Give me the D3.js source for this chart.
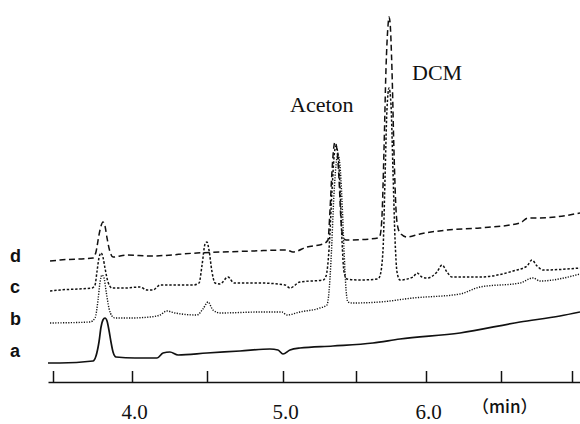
<!DOCTYPE html>
<html>
<head>
<meta charset="utf-8">
<script src="https://cdn.jsdelivr.net/npm/d3@7"></script>
<style>
  body { margin: 0; background: #fff; }
  svg { display: block; }
</style>
</head>
<body>
<svg id="chart" width="580" height="424"></svg>
<script>
const width = 580
const height = 424

// retention time (min) of the axis ticks, and which ones carry a label
const tickTimes = [3.5, 4.0, 4.5, 5.0, 5.5, 6.0, 6.5, 7.0]
const labelTimes = [4.0, 5.0, 6.0]

// chromatogram traces: [time (min), detector signal]
const traceA = [
  [3.468, 19], [3.544, 19], [3.753, 21], [3.772, 26], [3.791, 40], [3.804, 55], [3.816, 62],
  [3.829, 64], [3.842, 61], [3.854, 52], [3.867, 40], [3.880, 30], [3.899, 25], [4.020, 24],
  [4.167, 24], [4.207, 29], [4.253, 30], [4.307, 27], [4.500, 29], [4.717, 31], [4.914, 33],
  [4.967, 32], [5.000, 28], [5.048, 32], [5.116, 34], [5.342, 36], [5.621, 39], [5.814, 43],
  [6.227, 49], [6.634, 60], [6.915, 66], [7.055, 70]
]
const traceB = [
  [3.481, 59], [3.734, 60], [3.766, 64], [3.785, 82], [3.797, 99], [3.810, 107], [3.823, 104],
  [3.835, 92], [3.854, 74], [3.873, 66], [3.892, 64], [3.987, 64], [4.120, 65], [4.187, 67],
  [4.233, 71], [4.287, 69], [4.433, 67], [4.473, 73], [4.507, 80], [4.539, 72], [4.586, 69],
  [4.849, 70], [4.993, 70], [5.027, 67], [5.116, 70], [5.253, 74], [5.301, 77], [5.315, 90],
  [5.329, 122], [5.349, 187], [5.363, 217], [5.377, 227], [5.390, 217], [5.404, 182],
  [5.418, 132], [5.432, 92], [5.445, 80], [5.473, 79], [5.671, 80], [5.907, 84], [6.227, 88],
  [6.360, 95], [6.634, 99], [6.725, 104], [6.775, 101], [7.055, 108]
]
const traceC = [
  [3.481, 91], [3.544, 92], [3.747, 94], [3.766, 97], [3.778, 110], [3.791, 124], [3.804, 129],
  [3.816, 125], [3.829, 114], [3.848, 100], [3.873, 94], [3.956, 94], [4.053, 95], [4.100, 92],
  [4.140, 92], [4.187, 97], [4.407, 97], [4.447, 99], [4.467, 117], [4.487, 138], [4.500, 140],
  [4.513, 132], [4.533, 110], [4.553, 99], [4.586, 98], [4.638, 105], [4.678, 99], [4.849, 99],
  [5.014, 97], [5.048, 94], [5.116, 100], [5.274, 102], [5.295, 106], [5.315, 132], [5.336, 192],
  [5.349, 224], [5.363, 236], [5.377, 227], [5.390, 197], [5.404, 142], [5.418, 110], [5.438, 103],
  [5.529, 102], [5.657, 103], [5.671, 106], [5.693, 132], [5.707, 202], [5.721, 272], [5.736, 294],
  [5.750, 277], [5.764, 212], [5.779, 142], [5.793, 110], [5.814, 102], [5.907, 105], [5.936, 109],
  [5.971, 105], [6.007, 104], [6.073, 110], [6.107, 117], [6.140, 110], [6.173, 105], [6.360, 105],
  [6.585, 111], [6.683, 116], [6.718, 122], [6.754, 116], [6.796, 112], [7.055, 114]
]
const traceD = [
  [3.481, 121], [3.544, 122], [3.753, 124], [3.772, 130], [3.791, 147], [3.804, 156], [3.816, 160],
  [3.829, 156], [3.842, 144], [3.861, 130], [3.880, 125], [3.968, 127], [4.120, 126], [4.433, 129],
  [4.803, 131], [5.027, 132], [5.068, 130], [5.164, 135], [5.274, 138], [5.308, 142], [5.322, 172],
  [5.336, 212], [5.349, 236], [5.356, 240], [5.370, 232], [5.384, 202], [5.397, 162], [5.411, 145],
  [5.432, 142], [5.600, 143], [5.657, 144], [5.671, 146], [5.686, 167], [5.700, 232], [5.714, 312],
  [5.729, 357], [5.736, 365], [5.743, 360], [5.757, 312], [5.771, 232], [5.786, 172], [5.800, 154],
  [5.821, 148], [5.864, 145], [5.957, 148], [6.140, 152], [6.360, 154], [6.634, 159], [6.690, 164],
  [6.775, 164], [7.055, 169]
]

const traces = [
  { name: 'a', data: traceA, dash: null, width: 1.7, labelY: 357 },
  { name: 'b', data: traceB, dash: '1.2,1.4', width: 1.4, labelY: 325 },
  { name: 'c', data: traceC, dash: '2.4,1.8', width: 1.5, labelY: 293 },
  { name: 'd', data: traceD, dash: '6,3.5', width: 1.5, labelY: 262 }
]

const peakLabels = [
  { text: 'Aceton', x: 290, y: 112 },
  { text: 'DCM', x: 412, y: 80 }
]

const serif = '"Liberation Serif", "Times New Roman", serif'

const svg = d3.select('#chart')
svg.append('rect').attr('width', width).attr('height', height).attr('fill', '#fff')

// the scanned axis is not quite even, so the scale follows the printed ticks
const x = d3.scaleLinear()
  .domain([3.468, ...tickTimes, 7.055])
  .range([48, 53, 132, 207, 283, 356, 426, 501, 572, 580])

const y = d3.scaleLinear()
  .domain([0, 370])
  .range([382, 12])

const line = d3.line()
  .x(d => x(d[0]))
  .y(d => y(d[1]))
  .curve(d3.curveMonotoneX)

svg.append('g')
  .selectAll('path')
  .data(traces)
  .join('path')
  .attr('d', d => line(d.data))
  .attr('fill', 'none')
  .attr('stroke', '#111')
  .attr('stroke-width', d => d.width)
  .attr('stroke-dasharray', d => d.dash)

// trace letters
svg.append('g')
  .style('font-family', '"Liberation Sans", Arial, sans-serif')
  .style('font-weight', 'bold')
  .style('font-size', '18px')
  .attr('fill', '#111')
  .selectAll('text')
  .data(traces)
  .join('text')
  .attr('x', 10)
  .attr('y', d => d.labelY)
  .text(d => d.name)

svg.append('g')
  .style('font-family', serif)
  .style('font-size', '22px')
  .attr('fill', '#111')
  .selectAll('text')
  .data(peakLabels)
  .join('text')
  .attr('x', d => d.x)
  .attr('y', d => d.y)
  .text(d => d.text)

// axis: ticks point up from the baseline
svg.append('g')
  .attr('transform', 'translate(0,382)')
  .call(d3.axisBottom(x).tickValues(tickTimes).tickSize(-11).tickSizeOuter(0).tickFormat(''))
  .call(g => g.selectAll('.domain, line').attr('stroke', '#111').attr('stroke-width', 1.5))

svg.append('g')
  .attr('transform', 'translate(2,382)')
  .call(d3.axisBottom(x).tickValues(labelTimes).tickSize(0).tickPadding(22).tickFormat(d3.format('.1f')))
  .call(g => g.select('.domain').remove())
  .call(g => g.selectAll('text')
    .style('font-family', serif)
    .style('font-size', '21px')
    .attr('fill', '#111'))

svg.append('text')
  .attr('x', 472)
  .attr('y', 413)
  .style('font-family', '"Noto Sans CJK JP", "Noto Sans", sans-serif')
  .style('font-size', '17px')
  .style('font-weight', 500)
  .attr('fill', '#111')
  .text('（min）')
</script>
</body>
</html>
